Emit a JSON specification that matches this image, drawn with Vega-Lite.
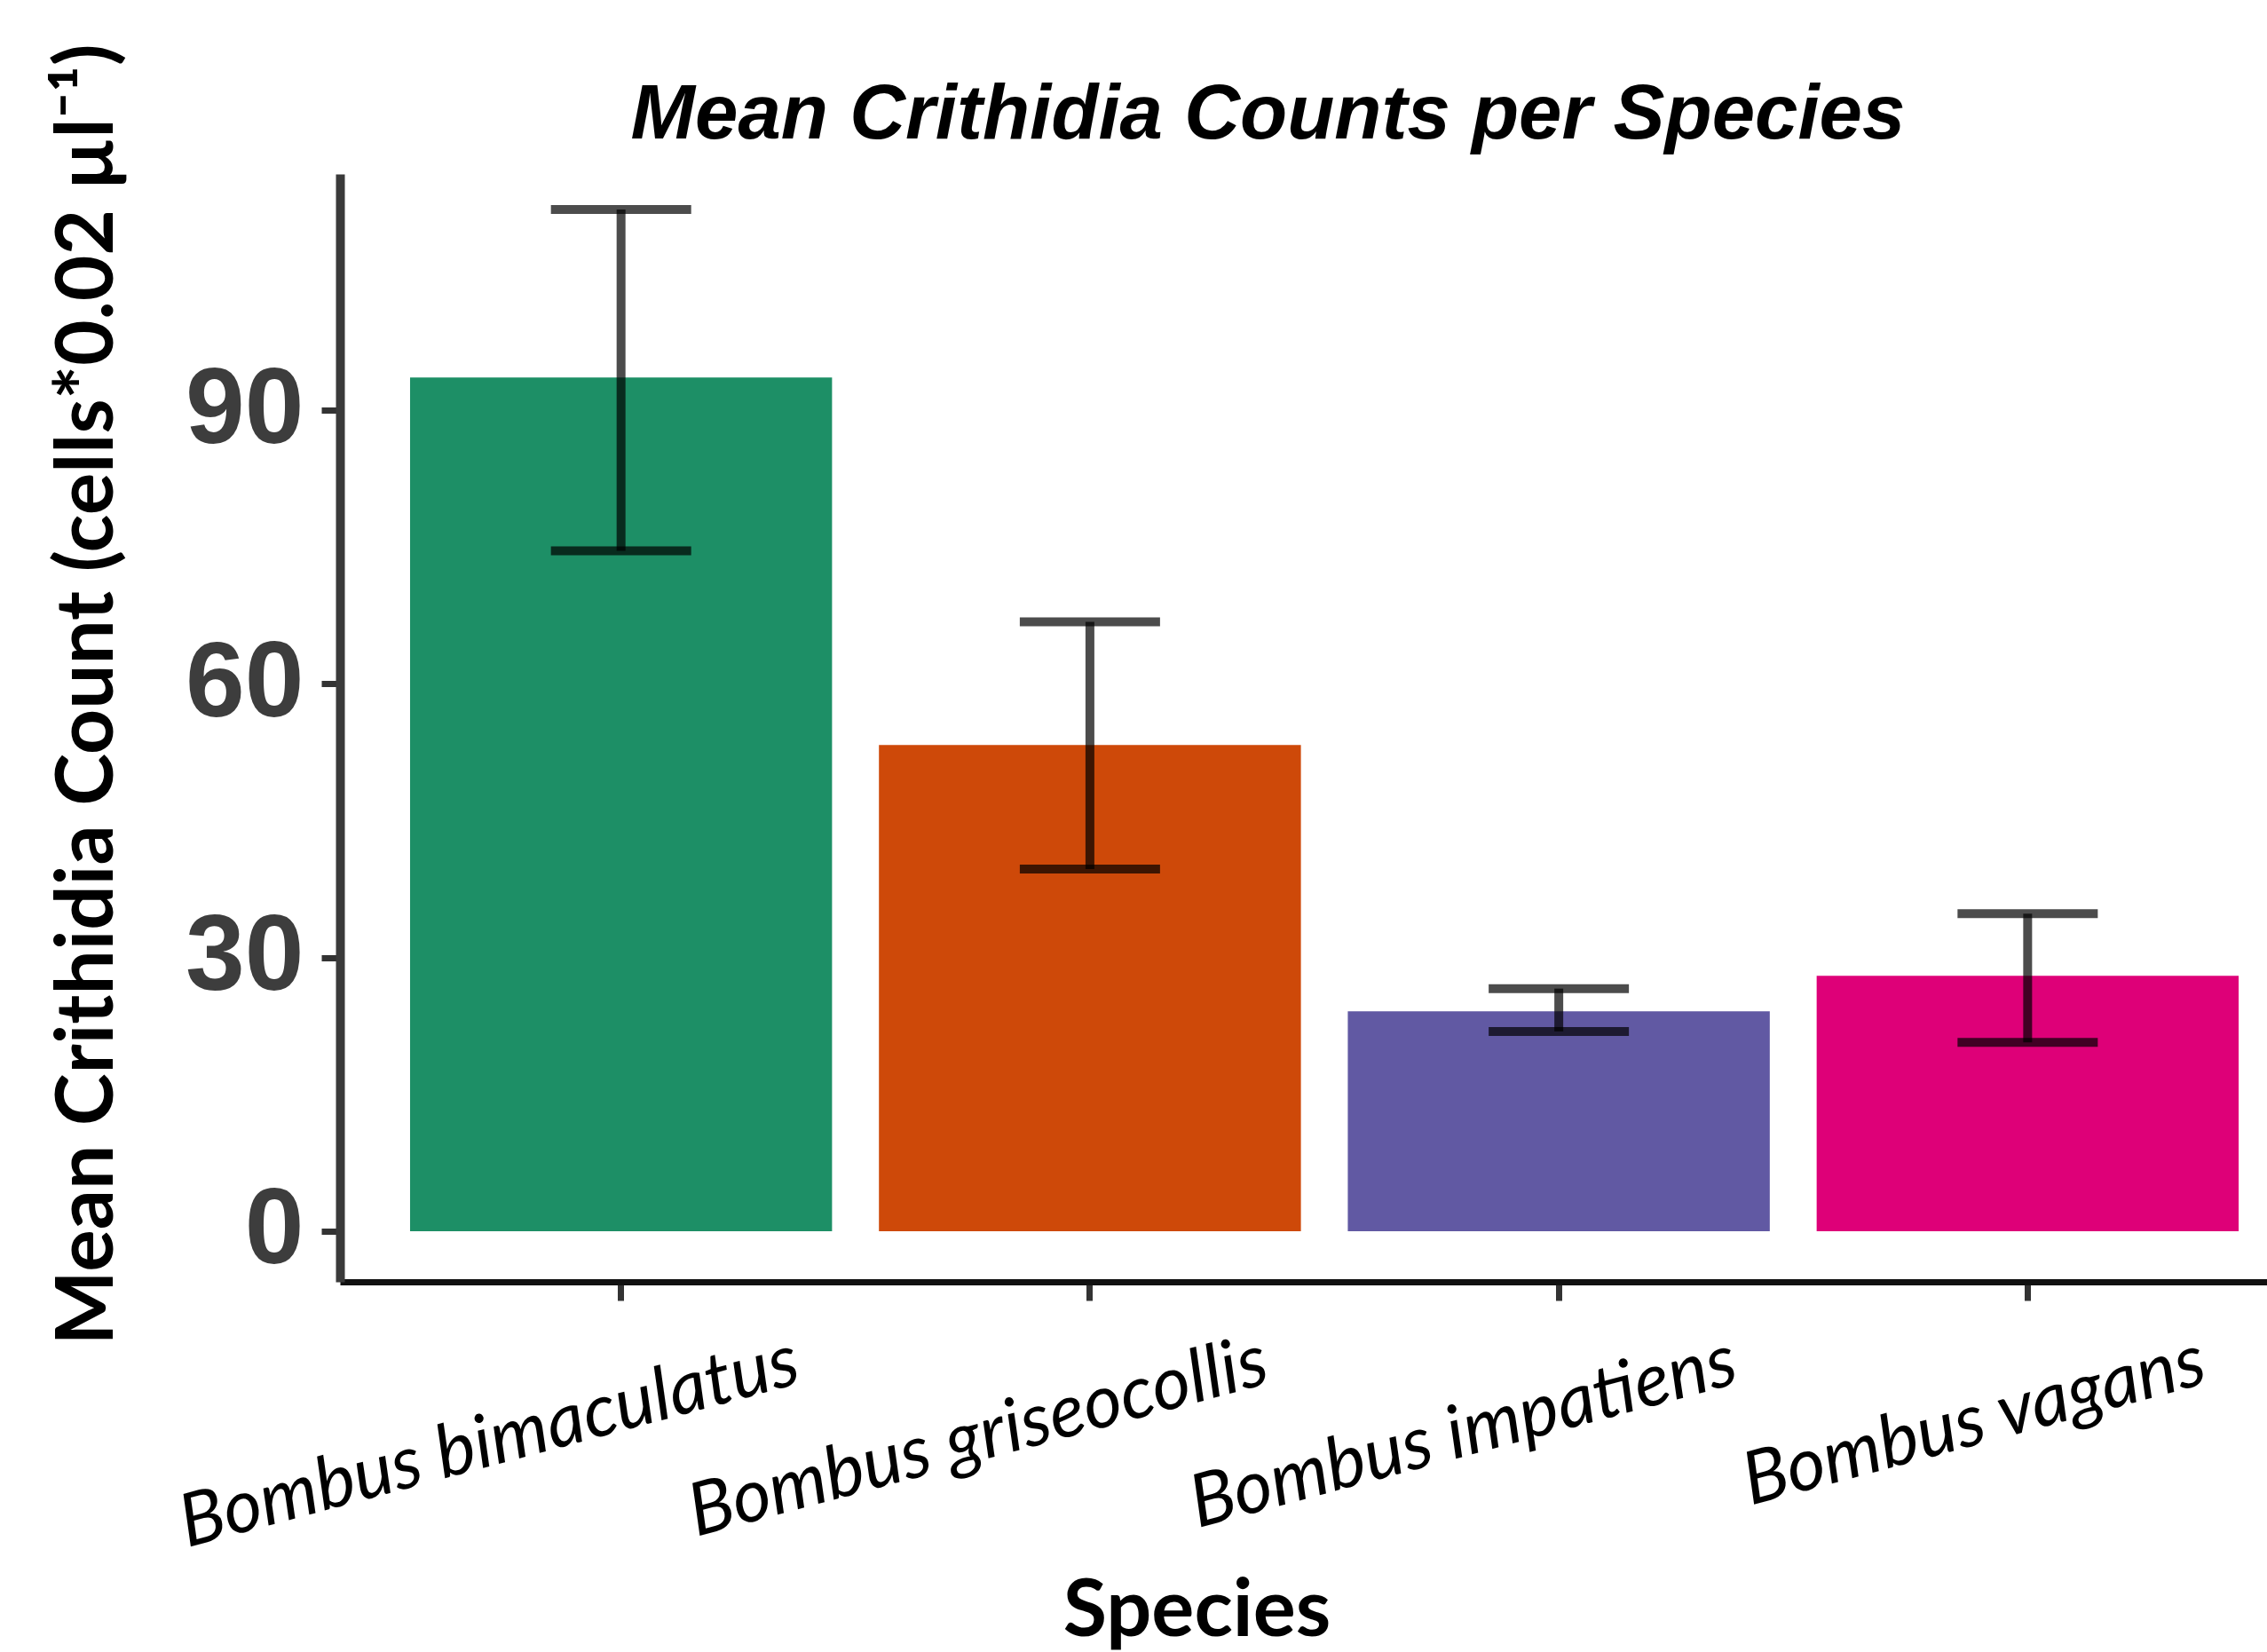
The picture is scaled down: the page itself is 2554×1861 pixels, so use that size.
{
  "$schema": "https://vega.github.io/schema/vega-lite/v6.json",
  "width": 2171,
  "height": 1248,
  "autosize": {"type": "none"},
  "padding": {"left": 383, "top": 196, "right": 0, "bottom": 417},
  "background": "white",
  "config": {"view": {"stroke": null}},
  "title": {
    "text": "Mean Crithidia Counts per Species",
    "font": "Liberation Sans",
    "fontSize": 87,
    "fontWeight": "bold",
    "fontStyle": "italic",
    "color": "black",
    "anchor": "middle",
    "frame": "group",
    "baseline": "alphabetic",
    "offset": 40,
    "dx": -40,
    "dy": 234
  },
  "data": {
    "values": [
      {"species": "Bombus bimaculatus", "mean": 93.6, "lower": 74.6, "upper": 112.0},
      {"species": "Bombus griseocollis", "mean": 53.3, "lower": 39.7, "upper": 66.8},
      {"species": "Bombus impatiens", "mean": 24.1, "lower": 21.9, "upper": 26.6},
      {"species": "Bombus vagans", "mean": 28.0, "lower": 20.7, "upper": 34.8}
    ]
  },
  "encoding": {
    "x": {
      "field": "species",
      "type": "nominal",
      "title": "Species",
      "scale": {"paddingInner": 0.1, "paddingOuter": 0.105, "align": 0.712},
      "axis": {
        "labelAngle": -15,
        "labelAlign": "right",
        "labelBaseline": "top",
        "labelOffset": 188,
        "labelPadding": 28,
        "labelFont": "Lato",
        "labelFontStyle": "italic",
        "labelFontSize": 83,
        "labelColor": "black",
        "labelLimit": 0,
        "labelOverlap": false,
        "tickSize": 21,
        "tickWidth": 7,
        "tickColor": "#333333",
        "domainColor": "#111111",
        "domainWidth": 7,
        "grid": false,
        "titleFont": "Lato",
        "titleFontSize": 90,
        "titleFontWeight": "bold",
        "titleColor": "black",
        "titleX": 965,
        "titleY": 398,
        "titleBaseline": "alphabetic",
        "titleAlign": "center"
      }
    }
  },
  "layer": [
    {
      "mark": {"type": "bar"},
      "encoding": {
        "y": {
          "field": "mean",
          "type": "quantitative",
          "title": "Mean Crithidia Count (cells*0.02 µl⁻¹)",
          "scale": {"domain": [-5.55, 115.9], "nice": false, "zero": false},
          "axis": {
            "values": [0, 30, 60, 90],
            "labelFont": "Liberation Sans",
            "labelFontWeight": "bold",
            "labelFontSize": 120,
            "labelColor": "#3d3d3d",
            "labelPadding": 20,
            "labelOverlap": false,
            "tickSize": 21,
            "tickWidth": 7,
            "tickColor": "#333333",
            "domainColor": "#3a3a3a",
            "domainWidth": 10,
            "grid": false,
            "titleFont": "Lato",
            "titleFontSize": 89,
            "titleFontWeight": "bold",
            "titleColor": "black",
            "titleAngle": -90,
            "titleX": -257,
            "titleY": 586,
            "titleBaseline": "alphabetic",
            "titleAlign": "center"
          }
        },
        "y2": {"datum": 0},
        "color": {
          "field": "species",
          "type": "nominal",
          "scale": {"range": ["#1d8f66", "#ce4909", "#6159a3", "#de0078"]},
          "legend": null
        }
      }
    },
    {
      "mark": {"type": "rule", "color": "black", "opacity": 0.7, "strokeWidth": 10},
      "encoding": {
        "y": {"field": "lower", "type": "quantitative"},
        "y2": {"field": "upper"}
      }
    },
    {
      "mark": {"type": "tick", "color": "black", "opacity": 0.7, "size": 158, "thickness": 10, "orient": "horizontal"},
      "encoding": {"y": {"field": "lower", "type": "quantitative"}}
    },
    {
      "mark": {"type": "tick", "color": "black", "opacity": 0.7, "size": 158, "thickness": 10, "orient": "horizontal"},
      "encoding": {"y": {"field": "upper", "type": "quantitative"}}
    }
  ]
}
